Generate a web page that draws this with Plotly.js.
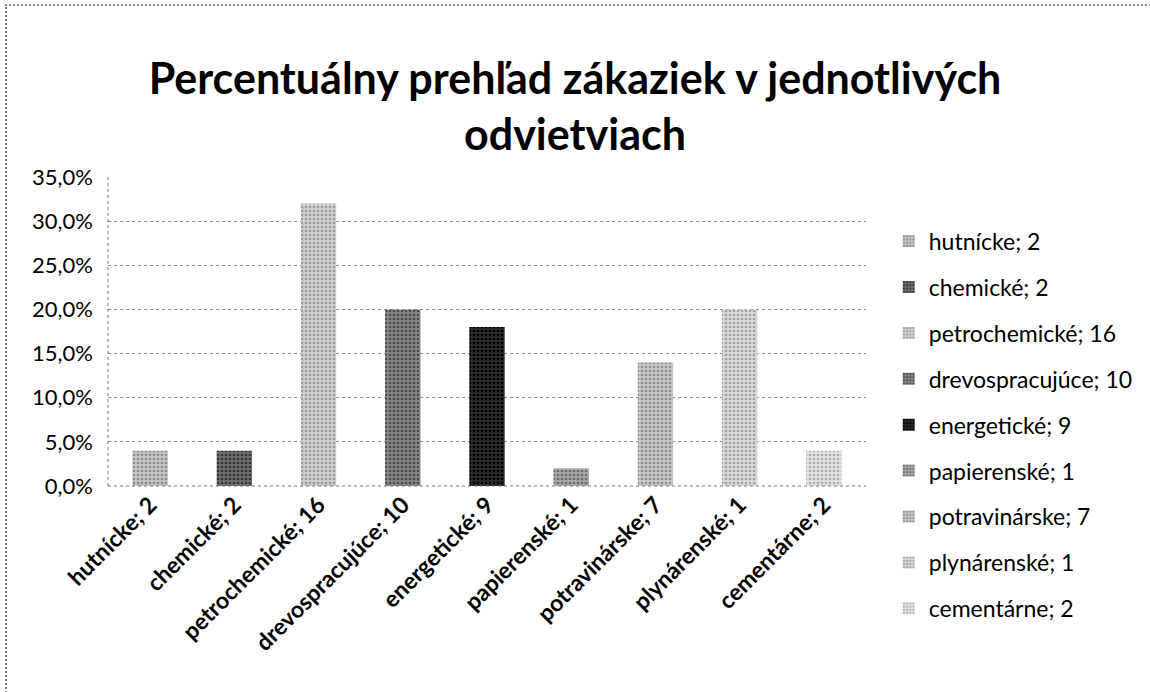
<!DOCTYPE html>
<html>
<head>
<meta charset="utf-8">
<script src="https://cdn.plot.ly/plotly-3.0.1.min.js"></script>
<style>
html,body{margin:0;padding:0;background:#fff;}
#frame{position:absolute;left:5px;top:4px;width:1150px;height:692px;border-left:2px dotted #777;border-top:2px dotted #888;box-sizing:border-box;}
#chart{position:absolute;left:0;top:0;width:1150px;height:692px;}
</style>
</head>
<body>
<div id="frame"></div>
<div id="chart"></div>
<script>
const categories = ["hutnícke; 2","chemické; 2","petrochemické; 16","drevospracujúce; 10","energetické; 9","papierenské; 1","potravinárske; 7","plynárenské; 1","cementárne; 2"];
const percentValues = [4, 4, 32, 20, 18, 2, 14, 20, 4];
const barColors = ["#c4c4c4","#6e6e6e","#cfcfcf","#858585","#2a2a2a","#a8a8a8","#c8c8c8","#dadada","#e2e2e2"];
const dotColors = ["#8a8a8a","#333333","#9a9a9a","#4a4a4a","#000000","#6a6a6a","#8e8e8e","#a0a0a0","#acacac"];
const yTicks = [0, 5, 10, 15, 20, 25, 30, 35];
const yTickText = yTicks.map(v => v.toFixed(1).replace('.', ',') + '%');

const traces = categories.map((c, i) => ({
  type: 'bar',
  x: [c],
  y: [percentValues[i]],
  name: c,
  legendgroup: 'g' + i,
  marker: {
    color: barColors[i],
    pattern: {shape: '.', fgcolor: dotColors[i], bgcolor: barColors[i], size: 4, solidity: 0.35, fillmode: 'replace'},
    line: {width: 0}
  },
  hoverinfo: 'x+y'
}));

const layout = {
  width: 1150, height: 692,
  paper_bgcolor: 'rgba(0,0,0,0)', plot_bgcolor: 'rgba(0,0,0,0)',
  margin: {l: 108, r: 284, t: 177, b: 206},
  barmode: 'overlay',
  bargap: 0.58,
  font: {family: 'Lato, "Noto Sans", sans-serif', color: '#000'},
  title: {
    text: 'Percentuálny prehľad zákaziek v jednotlivých<br>odvietviach',
    font: {family: 'Lato, sans-serif', size: 43, weight: 'bold', color: '#000'},
    x: 0.5, xref: 'container', xanchor: 'center',
    y: 1 - 94/692, yref: 'container', yanchor: 'middle'
  },
  xaxis: {
    type: 'category',
    tickangle: -45,
    tickfont: {size: 23, weight: 'bold'},
    showgrid: false,
    showline: false,
    ticks: '', automargin: false
  },
  yaxis: {
    range: [0, 35],
    tickmode: 'array',
    tickvals: yTicks,
    ticktext: yTickText,
    tickfont: {size: 22},
    ticklabelstandoff: 14,
    showgrid: true, gridcolor: '#8a8a8a', griddash: 'dot', gridwidth: 1,
    showline: false,
    zeroline: false, ticks: '',
    automargin: false
  },
  shapes: [
    {type: 'line', xref: 'paper', yref: 'paper', x0: 0, x1: 1, y0: 0, y1: 0, line: {color: '#777', width: 1, dash: 'dot'}},
    {type: 'line', xref: 'paper', yref: 'paper', x0: 0, x1: 0, y0: 0, y1: 1, line: {color: '#777', width: 1, dash: 'dot'}}
  ],
  showlegend: true,
  legend: {
    x: 1.03, xanchor: 'left', y: 0.197, yanchor: 'middle',
    font: {size: 23},
    traceorder: 'grouped', tracegroupgap: 13,
    maxheight: 600,
    bgcolor: 'rgba(0,0,0,0)', itemwidth: 30
  }
};

Plotly.newPlot('chart', traces, layout, {displayModeBar: false, staticPlot: true});
</script>
</body>
</html>
